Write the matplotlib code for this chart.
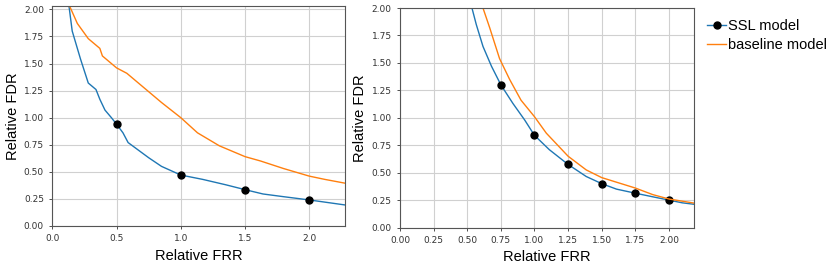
import matplotlib
matplotlib.use("Agg")
import matplotlib.pyplot as plt
from matplotlib.lines import Line2D

# =============================
# Data
# =============================
# left panel
left_ssl_x = [0.12, 0.13, 0.155, 0.22, 0.28, 0.34, 0.37, 0.41, 0.46, 0.50, 0.55, 0.59,
              0.67, 0.75, 0.85, 1.00, 1.17, 1.35, 1.50, 1.64, 1.80, 2.00, 2.15, 2.30]
left_ssl_y = [2.10, 2.03, 1.80, 1.54, 1.32, 1.26, 1.17, 1.07, 1.00, 0.94, 0.86, 0.77,
              0.70, 0.63, 0.55, 0.47, 0.43, 0.38, 0.335, 0.295, 0.27, 0.24, 0.215, 0.19]
left_ssl_mk_x = [0.5, 1.0, 1.5, 2.0]
left_ssl_mk_y = [0.94, 0.47, 0.335, 0.24]

left_base_x = [0.125, 0.135, 0.195, 0.28, 0.37, 0.39, 0.50, 0.58, 0.70, 0.85, 1.00,
               1.13, 1.30, 1.50, 1.62, 1.80, 2.00, 2.12, 2.30]
left_base_y = [2.10, 2.03, 1.87, 1.73, 1.64, 1.57, 1.46, 1.41, 1.29, 1.14, 1.00,
               0.86, 0.74, 0.64, 0.60, 0.53, 0.46, 0.43, 0.39]

# right panel
right_ssl_x = [0.525, 0.535, 0.567, 0.617, 0.68, 0.75, 0.84, 0.927, 1.00, 1.11, 1.25,
               1.385, 1.50, 1.61, 1.75, 1.88, 2.00, 2.10, 2.20]
right_ssl_y = [2.10, 2.00, 1.85, 1.65, 1.47, 1.30, 1.13, 0.98, 0.84, 0.71, 0.575,
               0.465, 0.40, 0.35, 0.313, 0.28, 0.25, 0.225, 0.21]
right_ssl_mk_x = [0.75, 1.00, 1.25, 1.50, 1.75, 2.00]
right_ssl_mk_y = [1.30, 0.84, 0.575, 0.40, 0.313, 0.25]

right_base_x = [0.60, 0.617, 0.667, 0.74, 0.815, 0.90, 1.00, 1.088, 1.25, 1.385,
                1.50, 1.75, 1.88, 2.00, 2.20]
right_base_y = [2.10, 2.00, 1.82, 1.54, 1.35, 1.16, 1.01, 0.86, 0.65, 0.525,
                0.455, 0.36, 0.30, 0.26, 0.22]

BLUE = "#1f77b4"
ORANGE = "#ff7f0e"

plt.rcParams["font.family"] = ["Liberation Sans", "DejaVu Sans"]

fig = plt.figure(figsize=(8.3, 2.68), dpi=100)
ax1 = fig.add_axes([0.063, 0.157, 0.353, 0.82])
ax2 = fig.add_axes([0.482, 0.151, 0.354, 0.819])


def style(ax, xlim, ylim, xticks):
    ax.set_xlim(*xlim)
    ax.set_ylim(*ylim)
    ax.set_xticks(xticks)
    ax.set_yticks([0.0, 0.25, 0.5, 0.75, 1.0, 1.25, 1.5, 1.75, 2.0])
    ax.grid(True, color="#d0d0d0", linewidth=0.8)
    ax.set_axisbelow(True)
    ax.tick_params(labelsize=6.5, length=2.5, width=0.6, colors="#333333",
                   labelfontfamily="DejaVu Sans")
    for s in ax.spines.values():
        s.set_color("#555555")
        s.set_linewidth(0.8)
    ax.set_xlabel("Relative FRR", fontsize=10.5, labelpad=4)
    ax.set_ylabel("Relative FDR", fontsize=10.5, labelpad=3)


# left
ax1.plot(left_ssl_x, left_ssl_y, color=BLUE, lw=1)
ax1.plot(left_base_x, left_base_y, color=ORANGE, lw=1)
ax1.plot(left_ssl_mk_x, left_ssl_mk_y, "o", color="black", ms=5)
style(ax1, (0, 2.28), (0, 2.03), [0.0, 0.5, 1.0, 1.5, 2.0])
ax1.yaxis.set_major_formatter(plt.FormatStrFormatter("%.2f"))

# right
ax2.plot(right_ssl_x, right_ssl_y, color=BLUE, lw=1)
ax2.plot(right_ssl_mk_x, right_ssl_mk_y, "o", color="black", ms=5)
ax2.plot(right_base_x, right_base_y, color=ORANGE, lw=1)
style(ax2, (0, 2.186), (0, 2.0), [0.0, 0.25, 0.5, 0.75, 1.0, 1.25, 1.5, 1.75, 2.0])
ax2.yaxis.set_major_formatter(plt.FormatStrFormatter("%.2f"))
ax2.xaxis.set_major_formatter(plt.FormatStrFormatter("%.2f"))

# legend handle: blue line with black marker
h1 = Line2D([], [], color=BLUE, lw=1, marker="o", mfc="black", mec="black", ms=5)
h2 = Line2D([], [], color=ORANGE, lw=1)
fig.legend([h1, h2], ["SSL model", "baseline model"], loc="upper left",
           bbox_to_anchor=(0.845, 0.95), frameon=False, fontsize=10.5,
           handlelength=1.3, handletextpad=0.15, labelspacing=0.3, borderaxespad=0)

fig.savefig("out.png", dpi=100)
